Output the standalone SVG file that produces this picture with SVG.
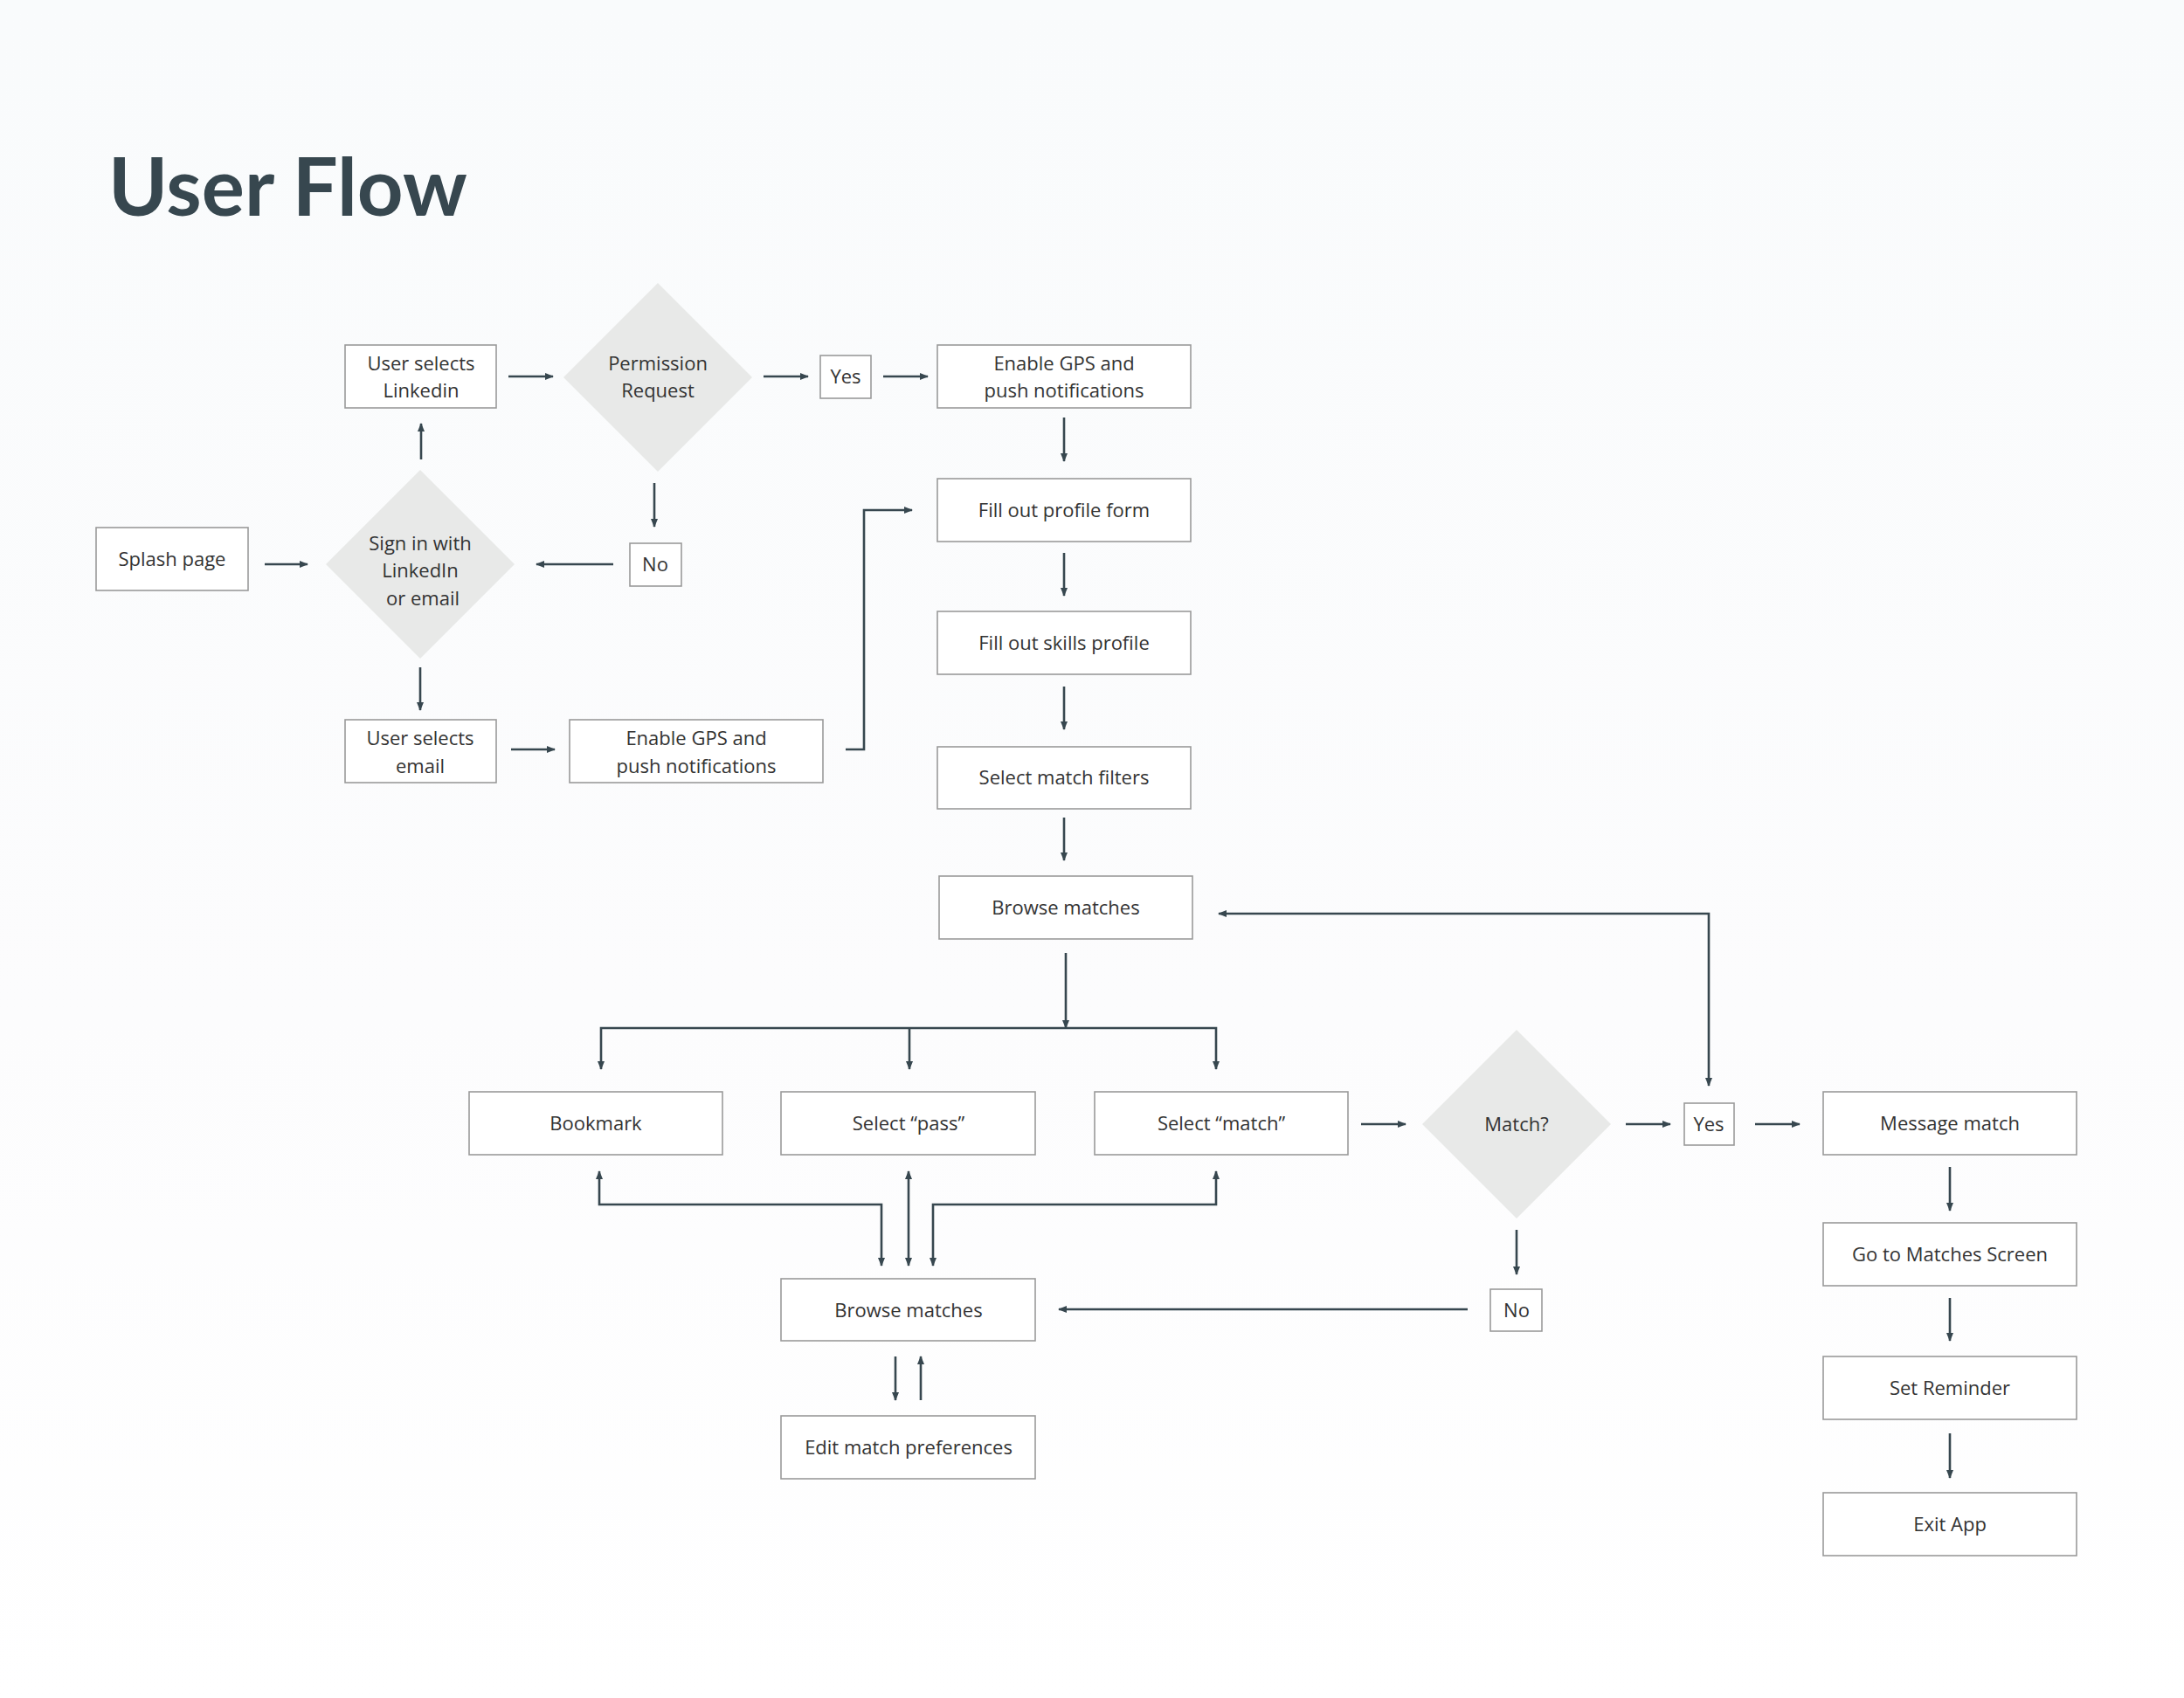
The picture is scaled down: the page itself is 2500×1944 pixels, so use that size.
<svg xmlns="http://www.w3.org/2000/svg" width="2500" height="1944" viewBox="0 0 2500 1944">
<defs>
<linearGradient id="bg" x1="0" y1="0" x2="0" y2="1"><stop offset="0" stop-color="#f9fbfc"/><stop offset="0.6" stop-color="#fcfcfd"/><stop offset="1" stop-color="#ffffff"/></linearGradient>
<marker id="a" viewBox="0 0 10 10" refX="9" refY="5" markerWidth="10" markerHeight="10" markerUnits="userSpaceOnUse" orient="auto-start-reverse"><path d="M0,1 L10,5 L0,9 Z" fill="#37474f"/></marker>
<style>
.b{fill:#ffffff;stroke:#9a9a9a;stroke-width:1.6}
.d{fill:#e8e9e8}
.t{font-family:"Open Sans","Liberation Sans",sans-serif;font-size:22px;fill:#333;text-anchor:middle}
.c path,.c line,.c polyline{stroke:#37474f;stroke-width:2.6;fill:none}
</style>
</defs>
<rect width="2500" height="1944" fill="url(#bg)"/>
<text x="124" y="247" font-family="Lato,'Liberation Sans',sans-serif" font-weight="bold" font-size="92" fill="#37474f">User Flow</text>
<g id="n1"><rect class="b" x="395" y="395" width="173" height="72"/><text class="t" x="482" y="424">User selects</text><text class="t" x="482" y="455">Linkedin</text></g>
<g id="n2"><path class="d" d="M753,324 L861,432 L753,540 L645,432 Z"/><text class="t" x="753" y="424">Permission</text><text class="t" x="753" y="455">Request</text></g>
<g id="n3"><rect class="b" x="939" y="407" width="58" height="49"/><text class="t" x="968" y="439">Yes</text></g>
<g id="n4"><rect class="b" x="1073" y="395" width="290" height="72"/><text class="t" x="1218" y="424">Enable GPS and</text><text class="t" x="1218" y="455">push notifications</text></g>
<g id="n5"><rect class="b" x="1073" y="548" width="290" height="72"/><text class="t" x="1218" y="592">Fill out profile form</text></g>
<g id="n6"><rect class="b" x="1073" y="700" width="290" height="72"/><text class="t" x="1218" y="744">Fill out skills profile</text></g>
<g id="n7"><rect class="b" x="1073" y="855" width="290" height="71"/><text class="t" x="1218" y="898">Select match filters</text></g>
<g id="n8"><rect class="b" x="1075" y="1003" width="290" height="72"/><text class="t" x="1220" y="1047">Browse matches</text></g>
<g id="n9"><rect class="b" x="110" y="604" width="174" height="72"/><text class="t" x="197" y="648">Splash page</text></g>
<g id="n10"><path class="d" d="M481,538 L589,646 L481,754 L373,646 Z"/><text class="t" x="481" y="630">Sign in with</text><text class="t" x="481" y="661">LinkedIn</text><text class="t" x="484" y="693">or email</text></g>
<g id="n11"><rect class="b" x="721" y="622" width="59" height="49"/><text class="t" x="750" y="654">No</text></g>
<g id="n12"><rect class="b" x="395" y="824" width="173" height="72"/><text class="t" x="481" y="853">User selects</text><text class="t" x="481" y="885">email</text></g>
<g id="n13"><rect class="b" x="652" y="824" width="290" height="72"/><text class="t" x="797" y="853">Enable GPS and</text><text class="t" x="797" y="885">push notifications</text></g>
<g id="n14"><rect class="b" x="537" y="1250" width="290" height="72"/><text class="t" x="682" y="1294">Bookmark</text></g>
<g id="n15"><rect class="b" x="894" y="1250" width="291" height="72"/><text class="t" x="1040" y="1294">Select “pass”</text></g>
<g id="n16"><rect class="b" x="1253" y="1250" width="290" height="72"/><text class="t" x="1398" y="1294">Select “match”</text></g>
<g id="n17"><path class="d" d="M1736,1179 L1844,1287 L1736,1395 L1628,1287 Z"/><text class="t" x="1736" y="1295">Match?</text></g>
<g id="n18"><rect class="b" x="1928" y="1263" width="57" height="48"/><text class="t" x="1956" y="1295">Yes</text></g>
<g id="n19"><rect class="b" x="2087" y="1250" width="290" height="72"/><text class="t" x="2232" y="1294">Message match</text></g>
<g id="n20"><rect class="b" x="2087" y="1400" width="290" height="72"/><text class="t" x="2232" y="1444">Go to Matches Screen</text></g>
<g id="n21"><rect class="b" x="2087" y="1553" width="290" height="72"/><text class="t" x="2232" y="1597">Set Reminder</text></g>
<g id="n22"><rect class="b" x="2087" y="1709" width="290" height="72"/><text class="t" x="2232" y="1753">Exit App</text></g>
<g id="n23"><rect class="b" x="1706" y="1476" width="59" height="48"/><text class="t" x="1736" y="1508">No</text></g>
<g id="n24"><rect class="b" x="894" y="1464" width="291" height="71"/><text class="t" x="1040" y="1508">Browse matches</text></g>
<g id="n25"><rect class="b" x="894" y="1621" width="291" height="72"/><text class="t" x="1040" y="1665">Edit match preferences</text></g>
<g class="c" id="connectors" marker-end="url(#a)">
<line x1="582" y1="431" x2="633" y2="431" marker-end="url(#a)"/>
<line x1="874" y1="431" x2="925" y2="431" marker-end="url(#a)"/>
<line x1="1011" y1="431" x2="1062" y2="431" marker-end="url(#a)"/>
<line x1="1218" y1="478" x2="1218" y2="528" marker-end="url(#a)"/>
<line x1="1218" y1="633" x2="1218" y2="682" marker-end="url(#a)"/>
<line x1="1218" y1="786" x2="1218" y2="835" marker-end="url(#a)"/>
<line x1="1218" y1="936" x2="1218" y2="985" marker-end="url(#a)"/>
<line x1="482" y1="526" x2="482" y2="485" marker-end="url(#a)"/>
<line x1="749" y1="553" x2="749" y2="603" marker-end="url(#a)"/>
<line x1="702" y1="646" x2="614" y2="646" marker-end="url(#a)"/>
<line x1="303" y1="646" x2="352" y2="646" marker-end="url(#a)"/>
<line x1="481" y1="764" x2="481" y2="813" marker-end="url(#a)"/>
<line x1="585" y1="858" x2="635" y2="858" marker-end="url(#a)"/>
<polyline points="968,858 989,858 989,584 1044,584" marker-end="url(#a)"/>
<line x1="1220" y1="1091" x2="1220" y2="1177"/>
<polyline points="688,1224 688,1177 1392,1177 1392,1224" marker-start="url(#a)" marker-end="url(#a)"/>
<line x1="1041" y1="1177" x2="1041" y2="1224" marker-end="url(#a)"/>
<polyline points="1956,1243 1956,1046 1395,1046" marker-start="url(#a)" marker-end="url(#a)"/>
<line x1="1558" y1="1287" x2="1609" y2="1287" marker-end="url(#a)"/>
<line x1="1861" y1="1287" x2="1912" y2="1287" marker-end="url(#a)"/>
<line x1="2009" y1="1287" x2="2060" y2="1287" marker-end="url(#a)"/>
<line x1="2232" y1="1336" x2="2232" y2="1386" marker-end="url(#a)"/>
<line x1="2232" y1="1486" x2="2232" y2="1535" marker-end="url(#a)"/>
<line x1="2232" y1="1641" x2="2232" y2="1692" marker-end="url(#a)"/>
<line x1="1736" y1="1408" x2="1736" y2="1459" marker-end="url(#a)"/>
<line x1="1680" y1="1499" x2="1212" y2="1499" marker-end="url(#a)"/>
<polyline points="686,1341 686,1379 1009,1379 1009,1449" marker-start="url(#a)" marker-end="url(#a)"/>
<line x1="1040" y1="1341" x2="1040" y2="1449" marker-start="url(#a)" marker-end="url(#a)"/>
<polyline points="1392,1341 1392,1379 1068,1379 1068,1449" marker-start="url(#a)" marker-end="url(#a)"/>
<line x1="1025" y1="1553" x2="1025" y2="1603" marker-end="url(#a)"/>
<line x1="1054" y1="1603" x2="1054" y2="1553" marker-end="url(#a)"/>
</g>
</svg>
